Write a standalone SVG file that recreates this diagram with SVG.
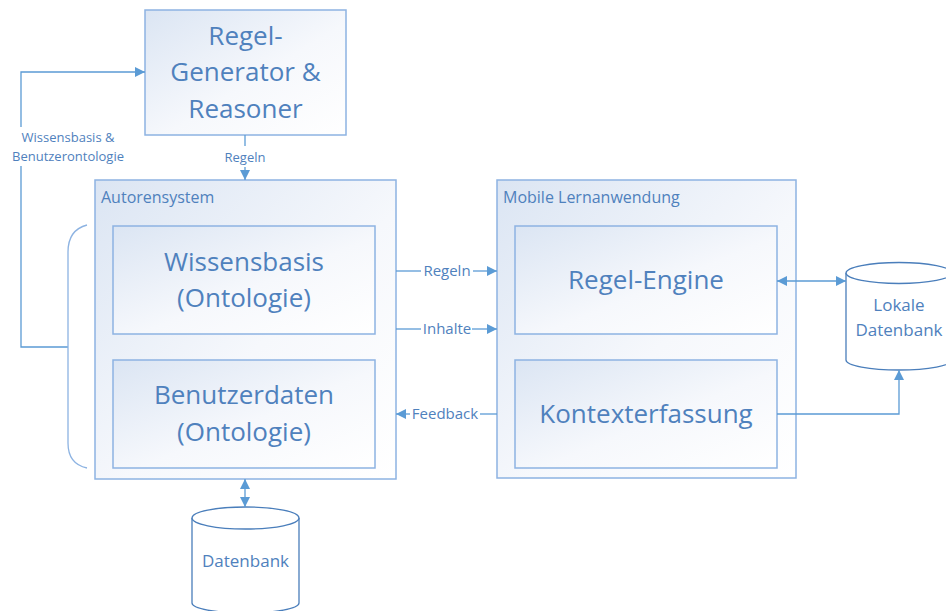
<svg xmlns="http://www.w3.org/2000/svg" width="946" height="611" viewBox="0 0 946 611">
<defs>
<linearGradient id="bg" x1="0" y1="0" x2="1" y2="1">
<stop offset="0" stop-color="#dbe5f3"/>
<stop offset="0.55" stop-color="#f6f8fc"/>
<stop offset="1" stop-color="#ffffff"/>
</linearGradient>
<marker id="ah" viewBox="0 0 10 10" refX="10" refY="5" markerWidth="10" markerHeight="10" markerUnits="userSpaceOnUse" orient="auto-start-reverse">
<path d="M0,0 L10,5 L0,10 z" fill="#5b9bd5"/>
</marker>
<style>
.box{fill:url(#bg);stroke:#8db3e2;stroke-width:1.5}
.cyl{fill:#ffffff;stroke:#4a7ebb;stroke-width:1.3}
.ln{fill:none;stroke:#5b9bd5;stroke-width:1.3}
.br{fill:none;stroke:#8db3e2;stroke-width:1.3}
text{font-family:"Open Sans","Liberation Sans",sans-serif;fill:#4f81bd}
.big{font-size:26px;text-anchor:middle}
.hd{font-size:16px}
.sm{font-size:15px;text-anchor:middle}
.lb{font-size:13px;text-anchor:middle}
.db{font-size:17px;text-anchor:middle}
</style>
</defs>
<g id="regelgenerator">
<rect class="box" x="145" y="10" width="201" height="125"/>
<text class="big" x="245.5" y="45">Regel-</text>
<text class="big" x="245.5" y="81">Generator &amp;</text>
<text class="big" x="245.5" y="118">Reasoner</text>
</g>
<g id="autorensystem">
<rect class="box" x="95" y="180" width="301" height="299"/>
<text class="hd" x="101" y="203">Autorensystem</text>
</g>
<g id="wissensbasis">
<rect class="box" x="113" y="226" width="262" height="108"/>
<text class="big" x="244" y="271">Wissensbasis</text>
<text class="big" x="244" y="307">(Ontologie)</text>
</g>
<g id="benutzerdaten">
<rect class="box" x="113" y="360" width="262" height="108"/>
<text class="big" x="244" y="404">Benutzerdaten</text>
<text class="big" x="244" y="441">(Ontologie)</text>
</g>
<g id="mobile">
<rect class="box" x="497" y="180" width="299" height="298"/>
<text class="hd" x="503" y="203">Mobile Lernanwendung</text>
</g>
<g id="regelengine">
<rect class="box" x="515" y="226" width="262" height="108"/>
<text class="big" x="646" y="289">Regel-Engine</text>
</g>
<g id="kontexterfassung">
<rect class="box" x="515" y="360" width="262" height="108"/>
<text class="big" x="646" y="423">Kontexterfassung</text>
</g>
<g id="lokaledb">
<path class="cyl" d="M846,273 L846,360 A53,10 0 0 0 952,360 L952,273 A53,10.5 0 0 0 846,273 z"/>
<path class="cyl" d="M846,273 A53,10.5 0 0 0 952,273"/>
<text class="db" x="899" y="311">Lokale</text>
<text class="db" x="899" y="336">Datenbank</text>
</g>
<g id="datenbank">
<path class="cyl" d="M192,518 L192,603 A53.5,10 0 0 0 299,603 L299,518 A53.5,11 0 0 0 192,518 z"/>
<path class="cyl" d="M192,518 A53.5,11 0 0 0 299,518"/>
<text class="db" x="245.5" y="567">Datenbank</text>
</g>
<g id="connectors">
<path class="ln" d="M21,127 L21,72 L145,72" marker-end="url(#ah)"/>
<path class="ln" d="M21,166 L21,347 L68,347"/>
<path class="br" d="M87,225 Q68,230 68,252 L68,443 Q68,464 87,468"/>
<path class="ln" d="M245,135 L245,146"/>
<path class="ln" d="M245,167 L245,180" marker-end="url(#ah)"/>
<path class="ln" d="M396,271 L421,271"/>
<path class="ln" d="M473,271 L497,271" marker-end="url(#ah)"/>
<path class="ln" d="M396,329 L421,329"/>
<path class="ln" d="M472,329 L497,329" marker-end="url(#ah)"/>
<path class="ln" d="M396,414 L410,414" marker-start="url(#ah)"/>
<path class="ln" d="M480,414 L497,414"/>
<path class="ln" d="M777,281 L846,281" marker-start="url(#ah)" marker-end="url(#ah)"/>
<path class="ln" d="M777,414 L899,414 L899,370" marker-end="url(#ah)"/>
<path class="ln" d="M245,479 L245,507" marker-start="url(#ah)" marker-end="url(#ah)"/>
<text class="lb" x="68" y="142">Wissensbasis &amp;</text>
<text class="lb" x="68" y="161">Benutzerontologie</text>
<text class="lb" x="245" y="162">Regeln</text>
<text class="sm" x="447" y="276">Regeln</text>
<text class="sm" x="447" y="334">Inhalte</text>
<text class="sm" x="445" y="419">Feedback</text>
</g>
</svg>
